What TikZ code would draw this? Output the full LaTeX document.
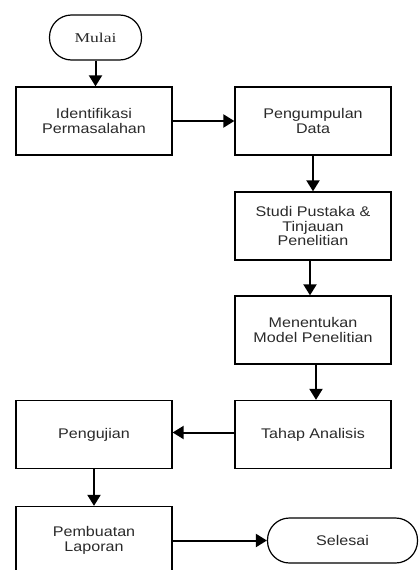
\documentclass[tikz,border=0pt]{standalone}
\usepackage{fontspec}
\setmainfont{Liberation Sans}
\newfontfamily\boxfont[FakeStretch=1.15]{Liberation Sans}
\newfontfamily\serifbox[FakeStretch=1.3]{Liberation Serif}
\usetikzlibrary{arrows.meta}
\definecolor{txt}{HTML}{2A2A2A}
\begin{document}
\begin{tikzpicture}[x=1pt,y=-1pt,
  stepbox/.style={draw=black, line width=1.3pt, minimum width=156pt, minimum height=68pt,
    inner sep=0pt, align=center, text=txt, font=\boxfont\fontsize{14}{14.5}\selectfont},
  term/.style={draw=black, line width=1.2pt, rounded corners=22pt, inner sep=0pt,
    minimum height=45pt, align=center, text=txt},
  arr/.style={line width=2pt, -{Triangle[length=11pt,width=13pt]}}]
\useasboundingbox (0,0) rectangle (418,570);
\clip (0,0) rectangle (418,570);
\node[term, minimum width=92pt, font=\serifbox\fontsize{13.5}{14}\selectfont] (mulai) at (95.5,37.5) {Mulai};
\node[stepbox] (ident) at (94,121) {Identifikasi\\Permasalahan};
\node[stepbox] (pengum) at (313,121) {Pengumpulan\\Data};
\node[stepbox] (studi) at (313,226) {Studi Pustaka \&\\Tinjauan\\Penelitian};
\node[stepbox] (menent) at (313,330) {Menentukan\\Model Penelitian};
\node[stepbox] (tahap) at (313,434.5) {Tahap Analisis};
\node[stepbox] (penguj) at (94,434.5) {Pengujian};
\node[stepbox] (pembu) at (94,540.5) {Pembuatan\\Laporan};
\node[term, minimum width=150pt, font=\boxfont\fontsize{14}{14.5}\selectfont] (selesai) at (342.5,540.5) {Selesai};
\draw[arr] (mulai.south) -- (ident.north -| mulai.south);
\draw[arr] (ident.east) -- (pengum.west);
\draw[arr] (pengum.south) -- (studi.north);
\draw[arr] ([xshift=-3pt]studi.south) -- ([xshift=-3pt]menent.north);
\draw[arr] ([xshift=3pt]menent.south) -- ([xshift=3pt]tahap.north);
\draw[arr] ([yshift=2pt]tahap.west) -- ([yshift=2pt]penguj.east);
\draw[arr] (penguj.south) -- (pembu.north);
\draw[arr] (pembu.east) -- (selesai.west);
\end{tikzpicture}
\end{document}
